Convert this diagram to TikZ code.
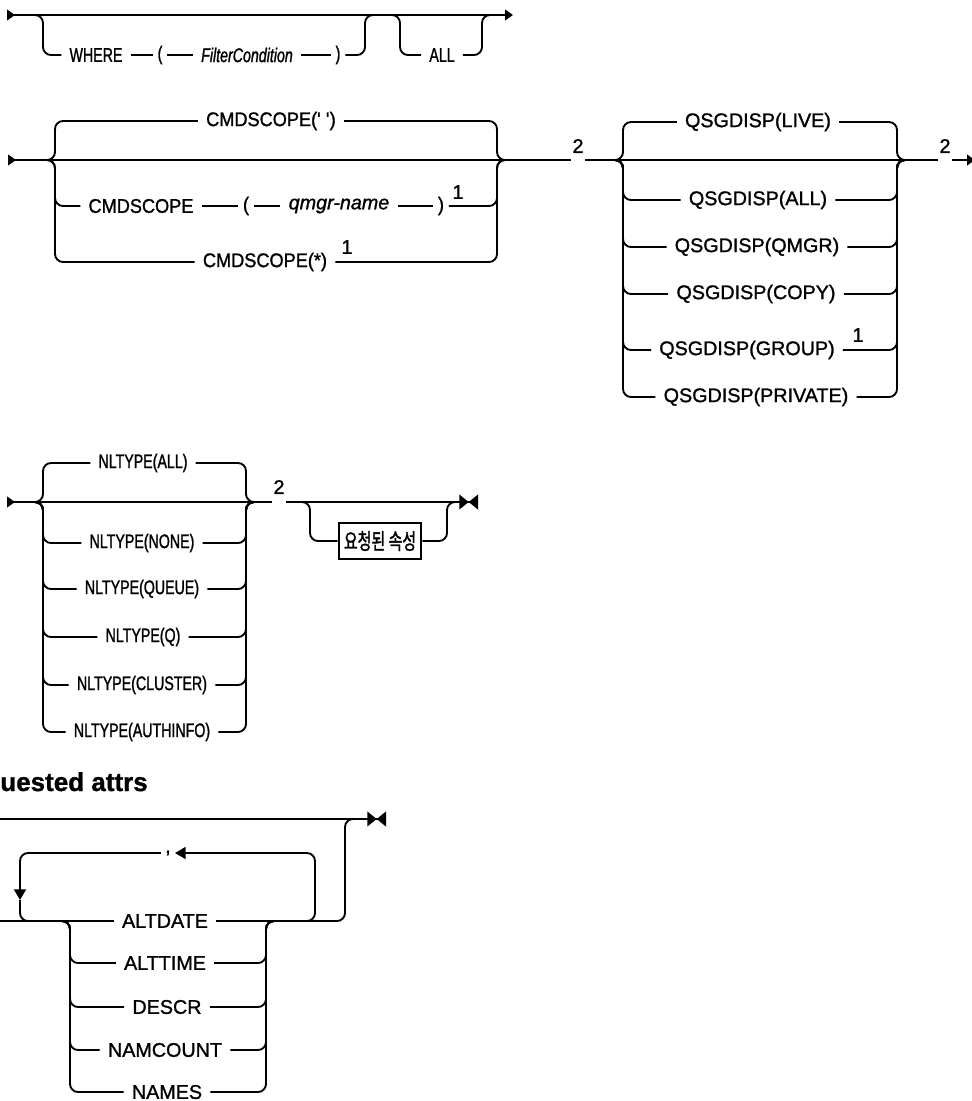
\documentclass[tikz,border=0pt]{standalone}
\usepackage{fontspec}
\setmainfont{Liberation Sans}[FakeBold=1.2]
\newfontfamily\narrowfont{Liberation Sans}[FakeStretch=0.72,FakeBold=1.2]
\newfontfamily\midfont{Liberation Sans}[FakeStretch=0.92,FakeBold=1.2]
\newfontfamily\cjkfont{Noto Sans CJK KR}[FakeStretch=0.68,FakeBold=1.5]
\usetikzlibrary{arrows.meta}
\newcommand{\railfont}{\fontsize{14.8}{17}\selectfont}

\tikzset{
  rail/.style={line width=1.4pt, rounded corners=6pt},
  opt/.style={inner xsep=6pt, inner ysep=2pt, font=\railfont},
  optn/.style={opt, font=\narrowfont\railfont},
  optm/.style={opt, font=\midfont\railfont},
  tok/.style={inner xsep=3.5pt},
  note/.style={inner sep=1pt, font=\railfont},
  attrbox/.style={draw, line width=1.4pt, inner xsep=4pt, minimum height=27pt, font=\cjkfont\fontsize{16.5}{19}\selectfont},
  title/.style={inner sep=0pt, font=\bfseries\fontsize{19.5}{22}\selectfont},
  railstart/.tip={Triangle[reversed,length=6pt,width=8pt]},
  railend/.tip={Triangle[length=6pt,width=8pt]},
  loopend/.tip={Triangle[length=8pt,width=9pt]},
  railstop/.tip={Triangle[length=7pt,width=11pt]Triangle[reversed,length=7pt,width=11pt]}
}

\begin{document}
\begin{tikzpicture}[x=0.75pt,y=-0.75pt]
\useasboundingbox (0,0) rectangle (972,1101);

% WHERE / ALL line
\coordinate (r1s) at (7,15);
\coordinate (r1e) at (513,15);
\draw[rail, railstart-railend] (r1s) -- (r1e);

\node[optn] (where) at (96,55) {WHERE};
\node[optn,tok] (lpar1) at (160,55) {(};
\node[optn, font=\narrowfont\itshape\railfont] (filtcond) at (247,55) {FilterCondition};
\node[optn,tok] (rpar1) at (338,55) {)};
\coordinate (w1in) at (33,15);
\coordinate (w1L) at (43,15);
\coordinate (w1R) at (365,15);
\coordinate (w1out) at (375,15);
\draw[rail] (w1in) -- (w1L) |- (where.west);
\draw[rail] (where) -- (lpar1) -- (filtcond) -- (rpar1);
\draw[rail] (rpar1.east) -| (w1R) -- (w1out);

\node[optn] (all1) at (442,55) {ALL};
\coordinate (a1in) at (390,15);
\coordinate (a1L) at (400,15);
\coordinate (a1R) at (482,15);
\coordinate (a1out) at (492,15);
\draw[rail] (a1in) -- (a1L) |- (all1.west) (all1.east) -| (a1R) -- (a1out);

% CMDSCOPE / QSGDISP line
\coordinate (r2s) at (8,160);
\coordinate (r2e) at (975,160);
\node[note] (n2a) at (578,146) {2};
\node[note] (n2b) at (945,146) {2};
\draw[rail, railstart-] (r2s) -- (n2a.west |- r2s);
\draw[rail] (n2a.east |- r2s) -- (n2b.west |- r2s);
\draw[rail, -railend] (n2b.east |- r2s) -- (r2e);

\node[optm] (cmdq) at (271,121) {CMDSCOPE(\textquotesingle\ \textquotesingle)};
\node[optm] (cmdsc) at (141,206) {CMDSCOPE};
\node[optm,tok] (lpar2) at (246,206) {(};
\node[opt, font=\itshape\railfont] (qmgr) at (339,206) {qmgr-name};
\node[optm,tok] (rpar2) at (441,206) {)};
\node[note] (n1a) at (458,192) {1};
\node[optm] (cmdst) at (265,262) {CMDSCOPE(*)};
\node[note] (n1b) at (347,247) {1};
\coordinate (c2in) at (45,160);
\coordinate (c2L) at (55,160);
\coordinate (c2R) at (497,160);
\coordinate (c2out) at (507,160);
\foreach \n in {cmdq,cmdst}
  \draw[rail] (c2in) -- (c2L) |- (\n.west) (\n.east) -| (c2R) -- (c2out);
\draw[rail] (c2in) -- (c2L) |- (cmdsc.west);
\draw[rail] (cmdsc) -- (lpar2) -- (qmgr) -- (rpar2);
\draw[rail] (rpar2.east) -| (c2R) -- (c2out);

\node[opt] (qlive) at (758,122) {QSGDISP(LIVE)};
\node[opt] (qall) at (758,200) {QSGDISP(ALL)};
\node[opt] (qqmgr) at (757,247) {QSGDISP(QMGR)};
\node[opt] (qcopy) at (756,294) {QSGDISP(COPY)};
\node[opt] (qgroup) at (747,350) {QSGDISP(GROUP)};
\node[opt] (qpriv) at (756,397) {QSGDISP(PRIVATE)};
\node[note] (n1c) at (858,335) {1};
\coordinate (q2in) at (612,160);
\coordinate (q2L) at (623,160);
\coordinate (q2R) at (897,160);
\coordinate (q2out) at (908,160);
\foreach \n in {qlive,qall,qqmgr,qcopy,qgroup,qpriv}
  \draw[rail] (q2in) -- (q2L) |- (\n.west) (\n.east) -| (q2R) -- (q2out);

% NLTYPE line
\coordinate (r3s) at (7,502);
\coordinate (r3e) at (478,502);
\node[note] (n2c) at (279,487) {2};
\draw[rail, railstart-] (r3s) -- (n2c.west |- r3s);
\draw[rail, -railstop] (n2c.east |- r3s) -- (r3e);

\node[optn] (nall) at (143,463) {NLTYPE(ALL)};
\node[optn] (nnone) at (142,543) {NLTYPE(NONE)};
\node[optn] (nqueue) at (142,589) {NLTYPE(QUEUE)};
\node[optn] (nq) at (143,637) {NLTYPE(Q)};
\node[optn] (nclus) at (142,685) {NLTYPE(CLUSTER)};
\node[optn] (nauth) at (142,732) {NLTYPE(AUTHINFO)};
\coordinate (n3in) at (33,502);
\coordinate (n3L) at (43,502);
\coordinate (n3R) at (246,502);
\coordinate (n3out) at (256,502);
\foreach \n in {nall,nnone,nqueue,nq,nclus,nauth}
  \draw[rail] (n3in) -- (n3L) |- (\n.west) (\n.east) -| (n3R) -- (n3out);

\node[attrbox] (reqatt) at (380,541) {요청된 속성};
\coordinate (ra3in) at (300,502);
\coordinate (ra3L) at (310,502);
\coordinate (ra3R) at (447,502);
\coordinate (ra3out) at (457,502);
\draw[rail] (ra3in) -- (ra3L) |- (reqatt.west) (reqatt.east) -| (ra3R) -- (ra3out);

% Requested attrs
\node[title, anchor=base east] (reqtitle) at (148,791) {uested attrs};
\coordinate (r4s) at (0,819);
\coordinate (r4e) at (386,819);
\draw[rail, -railstop] (r4s) -- (r4e);

\node[opt] (altdate) at (165,921) {ALTDATE};
\node[opt] (alttime) at (165,963) {ALTTIME};
\node[opt] (descr) at (167,1007) {DESCR};
\node[opt] (namcnt) at (165,1050) {NAMCOUNT};
\node[opt] (names) at (167,1092) {NAMES};
\coordinate (r4low) at (0,921);
\coordinate (r4R) at (345,819);
\coordinate (r4out) at (355,819);
\draw[rail] (r4low) -- (altdate.west);
\draw[rail] (altdate.east) -| (r4R) -- (r4out);
\coordinate (g4in) at (60,921);
\coordinate (g4L) at (70,921);
\coordinate (g4R) at (266,921);
\coordinate (g4out) at (276,921);
\foreach \n in {alttime,descr,namcnt,names}
  \draw[rail] (g4in) -- (g4L) |- (\n.west) (\n.east) -| (g4R) -- (g4out);

% repeat loop
\node[opt, inner xsep=3pt] (comma) at (168,853) {,};
\coordinate (lpin) at (303,921);
\coordinate (lpR) at (315,921);
\coordinate (lpdn) at (20,900);
\coordinate (lpout) at (36,921);
\draw[rail, -loopend] (lpin) -- (lpR) |- (comma.east);
\draw[rail, -loopend] (comma.west) -| (lpdn);
\draw[rail] (lpdn) |- (lpout);

\end{tikzpicture}
\end{document}
